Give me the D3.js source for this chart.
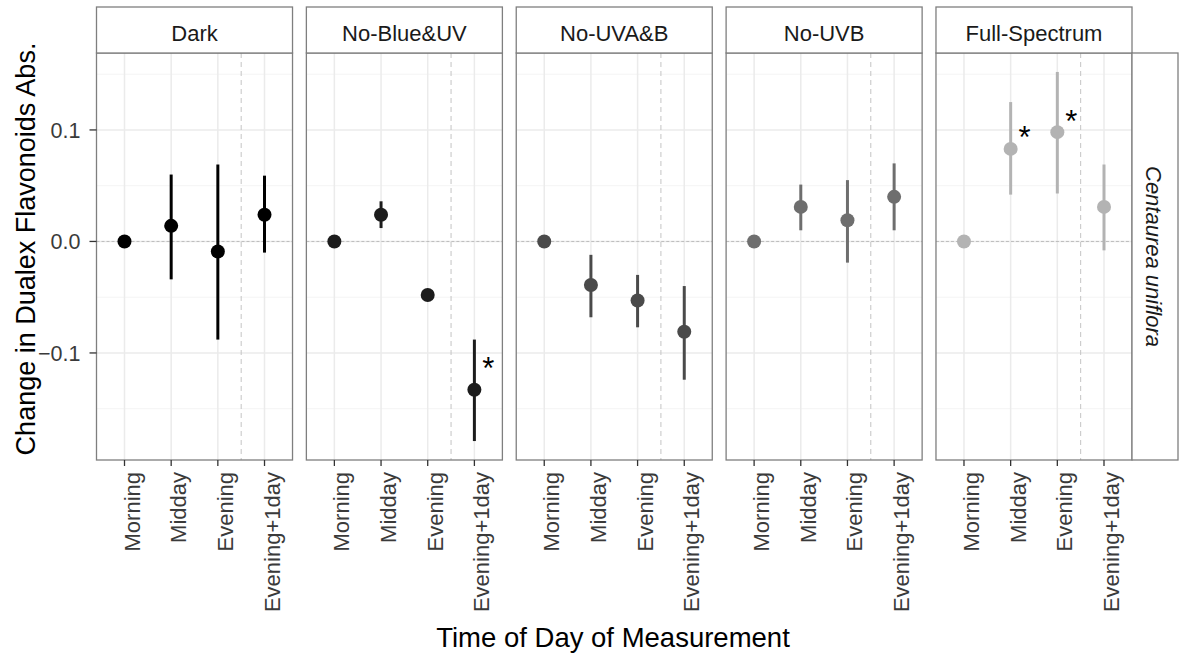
<!DOCTYPE html>
<html>
<head>
<meta charset="utf-8">
<script src="https://cdn.jsdelivr.net/npm/d3@7"></script>
<style>
  body { margin: 0; background: #fff; }
  text { font-family: "Liberation Sans", Arial, sans-serif; }
</style>
</head>
<body>
<div id="chart"></div>
<script>
// facets and categories
const facets = ["Dark", "No-Blue&UV", "No-UVA&B", "No-UVB", "Full-Spectrum"];
const times = ["Morning", "Midday", "Evening", "Evening+1day"];
const facetColors = ["#000000", "#1c1c1c", "#4a4a4a", "#6e6e6e", "#b3b3b3"];

// mean change and error bar limits, one row per facet (order of times)
const means = [
  [0, 0.014, -0.009, 0.024],
  [0, 0.024, -0.048, -0.133],
  [0, -0.039, -0.053, -0.081],
  [0, 0.031, 0.019, 0.040],
  [0, 0.083, 0.098, 0.031]
];
const lowers = [
  [0, -0.034, -0.088, -0.010],
  [0, 0.012, -0.052, -0.179],
  [0, -0.068, -0.077, -0.124],
  [0, 0.010, -0.019, 0.010],
  [0, 0.042, 0.043, -0.008]
];
const uppers = [
  [0, 0.060, 0.069, 0.059],
  [0, 0.036, -0.044, -0.088],
  [0, -0.012, -0.030, -0.040],
  [0, 0.051, 0.055, 0.070],
  [0, 0.125, 0.152, 0.069]
];

// significance stars: facet, time, y position
const starFacets = ["No-Blue&UV", "Full-Spectrum", "Full-Spectrum"];
const starTimes = ["Evening+1day", "Midday", "Evening"];
const starY = [-0.108, 0.099, 0.113];

const yTicks = [-0.1, 0.0, 0.1];
const yMinor = [-0.15, -0.05, 0.05, 0.15];

const data = [];
facets.forEach((f, i) => times.forEach((t, j) => {
  data.push({facet: f, time: t, mean: means[i][j], lo: lowers[i][j], hi: uppers[i][j], color: facetColors[i]});
}));

const W = 1182, H = 661;
const panelTop = 53, panelBottom = 460, stripTop = 7;

const svg = d3.select("#chart").append("svg")
  .attr("width", W).attr("height", H);

// facet positions
const fx = d3.scaleBand().domain(facets).range([96.5, 1132]).paddingInner(0.066);
const pw = fx.bandwidth();

// within-panel scales
const x = d3.scalePoint().domain(times).range([0, pw]).padding(0.6);
const y = d3.scaleLinear().domain([-0.196, 0.169]).range([panelBottom, panelTop]);

const gridCol = "#ebebeb", minorCol = "#f4f4f4", borderCol = "#7f7f7f";

facets.forEach((f, i) => {
  const g = svg.append("g").attr("transform", `translate(${fx(f)},0)`);

  // minor grid
  g.selectAll(".minor").data(yMinor).join("line")
    .attr("x1", 0).attr("x2", pw)
    .attr("y1", d => y(d)).attr("y2", d => y(d))
    .attr("stroke", minorCol).attr("stroke-width", 1);
  // major grid
  g.selectAll(".major").data(yTicks).join("line")
    .attr("x1", 0).attr("x2", pw)
    .attr("y1", d => y(d)).attr("y2", d => y(d))
    .attr("stroke", gridCol).attr("stroke-width", 1.5);
  g.selectAll(".vgrid").data(times).join("line")
    .attr("x1", d => x(d)).attr("x2", d => x(d))
    .attr("y1", panelTop).attr("y2", panelBottom)
    .attr("stroke", gridCol).attr("stroke-width", 1.5);

  // zero reference line
  g.append("line")
    .attr("x1", 0).attr("x2", pw).attr("y1", y(0)).attr("y2", y(0))
    .attr("stroke", "#bdbdbd").attr("stroke-width", 1).attr("stroke-dasharray", "3,2");
  // separator between same-day and next-day
  const sep = (x("Evening") + x("Evening+1day")) / 2;
  g.append("line")
    .attr("x1", sep).attr("x2", sep).attr("y1", panelTop).attr("y2", panelBottom)
    .attr("stroke", "#c4c4c4").attr("stroke-width", 1).attr("stroke-dasharray", "5,4");

  const fd = data.filter(d => d.facet === f);
  // error bars
  g.selectAll(".err").data(fd.filter(d => d.hi !== d.lo)).join("line")
    .attr("x1", d => x(d.time)).attr("x2", d => x(d.time))
    .attr("y1", d => y(d.lo)).attr("y2", d => y(d.hi))
    .attr("stroke", d => d.color).attr("stroke-width", 3);
  // points
  g.selectAll(".pt").data(fd).join("circle")
    .attr("cx", d => x(d.time)).attr("cy", d => y(d.mean)).attr("r", 7)
    .attr("fill", d => d.color);

  // stars
  starFacets.forEach((sf, k) => {
    if (sf !== f) return;
    g.append("text")
      .attr("x", x(starTimes[k]) + x.step() * 0.3)
      .attr("y", y(starY[k]) + 17)
      .attr("text-anchor", "middle")
      .attr("font-size", 31).attr("fill", "#000")
      .text("*");
  });

  // panel border
  g.append("rect").attr("x", 0).attr("y", panelTop).attr("width", pw).attr("height", panelBottom - panelTop)
    .attr("fill", "none").attr("stroke", borderCol).attr("stroke-width", 1.3);
  // strip
  g.append("rect").attr("x", 0).attr("y", stripTop).attr("width", pw).attr("height", panelTop - stripTop)
    .attr("fill", "#fff").attr("stroke", borderCol).attr("stroke-width", 1.3);
  g.append("text").attr("x", pw / 2).attr("y", 41)
    .attr("text-anchor", "middle").attr("font-size", 22).attr("fill", "#1a1a1a")
    .text(f);

  // x ticks & labels
  g.selectAll(".xt").data(times).join("line")
    .attr("x1", d => x(d)).attr("x2", d => x(d))
    .attr("y1", panelBottom).attr("y2", panelBottom + 6)
    .attr("stroke", "#333").attr("stroke-width", 1.3);
  g.selectAll(".xl").data(times).join("text")
    .attr("transform", d => `translate(${x(d) + 15},${panelBottom + 12}) rotate(-90)`)
    .attr("text-anchor", "end").attr("font-size", 22).attr("fill", "#3a3a3a")
    .text(d => d);
});

// right strip
const lastRight = fx(facets[facets.length - 1]) + pw;
svg.append("rect").attr("x", lastRight).attr("y", panelTop).attr("width", 46).attr("height", panelBottom - panelTop)
  .attr("fill", "#fff").attr("stroke", borderCol).attr("stroke-width", 1.3);
svg.append("text")
  .attr("transform", `translate(${lastRight + 14},${(panelTop + panelBottom) / 2}) rotate(90)`)
  .attr("text-anchor", "middle").attr("font-size", 22).attr("font-style", "italic").attr("fill", "#1a1a1a")
  .text("Centaurea uniflora");

// y axis
const left = fx(facets[0]);
svg.selectAll(".yt").data(yTicks).join("line")
  .attr("x1", left - 7).attr("x2", left)
  .attr("y1", d => y(d)).attr("y2", d => y(d))
  .attr("stroke", "#333").attr("stroke-width", 1.3);
svg.selectAll(".yl").data(yTicks).join("text")
  .attr("x", left - 16).attr("y", d => y(d)).attr("dy", "0.36em")
  .attr("text-anchor", "end").attr("font-size", 21.5).attr("fill", "#3a3a3a")
  .text(d => d3.format(".1f")(d));

// axis titles
svg.append("text")
  .attr("transform", `translate(35,249) rotate(-90)`)
  .attr("text-anchor", "middle").attr("font-size", 27).attr("fill", "#000")
  .text("Change in Dualex Flavonoids Abs.");
svg.append("text")
  .attr("x", 613).attr("y", 647)
  .attr("text-anchor", "middle").attr("font-size", 27.5).attr("fill", "#000")
  .text("Time of Day of Measurement");
</script>
</body>
</html>
